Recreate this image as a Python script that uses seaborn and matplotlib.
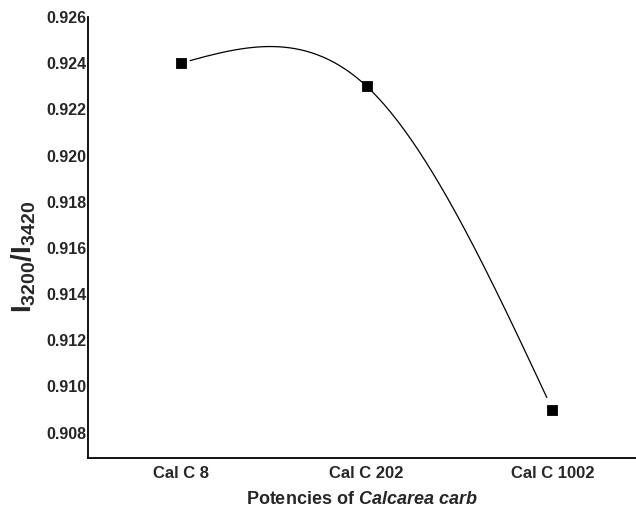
import numpy as np
import pandas as pd
import matplotlib
matplotlib.use("Agg")
import matplotlib.pyplot as plt
import seaborn as sns

# data
potencies = ["Cal C 8", "Cal C 202", "Cal C 1002"]
ratio = [0.924, 0.923, 0.909]
y_ticks = [0.908, 0.910, 0.912, 0.914, 0.916, 0.918, 0.920, 0.922, 0.924, 0.926]


def natural_spline(x, y, n=200):
    # plain natural cubic spline, no scipy needed
    x = np.asarray(x, float)
    y = np.asarray(y, float)
    k = len(x)
    h = np.diff(x)
    A = np.zeros((k, k))
    b = np.zeros(k)
    A[0, 0] = A[-1, -1] = 1
    for i in range(1, k - 1):
        A[i, i - 1] = h[i - 1]
        A[i, i] = 2 * (h[i - 1] + h[i])
        A[i, i + 1] = h[i]
        b[i] = 6 * ((y[i + 1] - y[i]) / h[i] - (y[i] - y[i - 1]) / h[i - 1])
    M = np.linalg.solve(A, b)
    xs = np.linspace(x[0], x[-1], n)
    ys = np.empty_like(xs)
    for j, xv in enumerate(xs):
        i = min(np.searchsorted(x, xv, side="right") - 1, k - 2)
        t0 = x[i + 1] - xv
        t1 = xv - x[i]
        ys[j] = (M[i] * t0 ** 3 + M[i + 1] * t1 ** 3) / (6 * h[i]) \
            + (y[i] / h[i] - M[i] * h[i] / 6) * t0 \
            + (y[i + 1] / h[i] - M[i + 1] * h[i] / 6) * t1
    return xs, ys


sns.set_theme(style="white")
plt.rcParams["font.family"] = ["Liberation Sans", "DejaVu Sans"]
plt.rcParams["font.weight"] = "bold"
plt.rcParams["mathtext.fontset"] = "custom"
plt.rcParams["mathtext.rm"] = "Liberation Sans:bold"
plt.rcParams["mathtext.bf"] = "Liberation Sans:bold"
plt.rcParams["mathtext.it"] = "Liberation Sans:italic:bold"

df = pd.DataFrame({"pos": np.arange(len(potencies)), "ratio": ratio})
xs, ys = natural_spline(df["pos"], df["ratio"])
# the line in the reference stops just short of the markers
keep = (xs > 0.05) & (xs < 1.97)
curve = pd.DataFrame({"pos": xs[keep], "ratio": ys[keep]})

fig = plt.figure(figsize=(6.36, 5.14), dpi=100)
ax = fig.add_axes([88 / 636, 56 / 514, 548 / 636, 441 / 514])

sns.lineplot(data=curve, x="pos", y="ratio", ax=ax, color="black", lw=0.9)
sns.scatterplot(data=df, x="pos", y="ratio", ax=ax, marker="s", s=55,
                color="black", edgecolor="black", zorder=3)

ax.set_xlim(-0.5, 2.45)
ax.set_ylim(0.9069, 0.926)
ax.set_xticks(df["pos"])
ax.set_xticklabels(potencies, fontsize=12, fontweight="bold")
ax.set_yticks(y_ticks)
ax.set_yticklabels([f"{v:.3f}" for v in y_ticks], fontsize=11.5, fontweight="bold")
ax.tick_params(axis="both", length=0)
ax.tick_params(axis="y", pad=1)
ax.tick_params(axis="x", pad=6)

for side in ["top", "right"]:
    ax.spines[side].set_visible(False)
for side in ["left", "bottom"]:
    ax.spines[side].set_color("black")
    ax.spines[side].set_linewidth(1.3)

ax.set_xlabel(r"Potencies of $\mathit{Calcarea\ carb}$", fontsize=13,
              fontweight="bold", labelpad=7)
ax.set_ylabel(r"$\mathbf{I_{3200}/I_{3420}}$", fontsize=20)
ax.yaxis.set_label_coords(-0.092, 0.456)

fig.savefig("out.png", dpi=100)
